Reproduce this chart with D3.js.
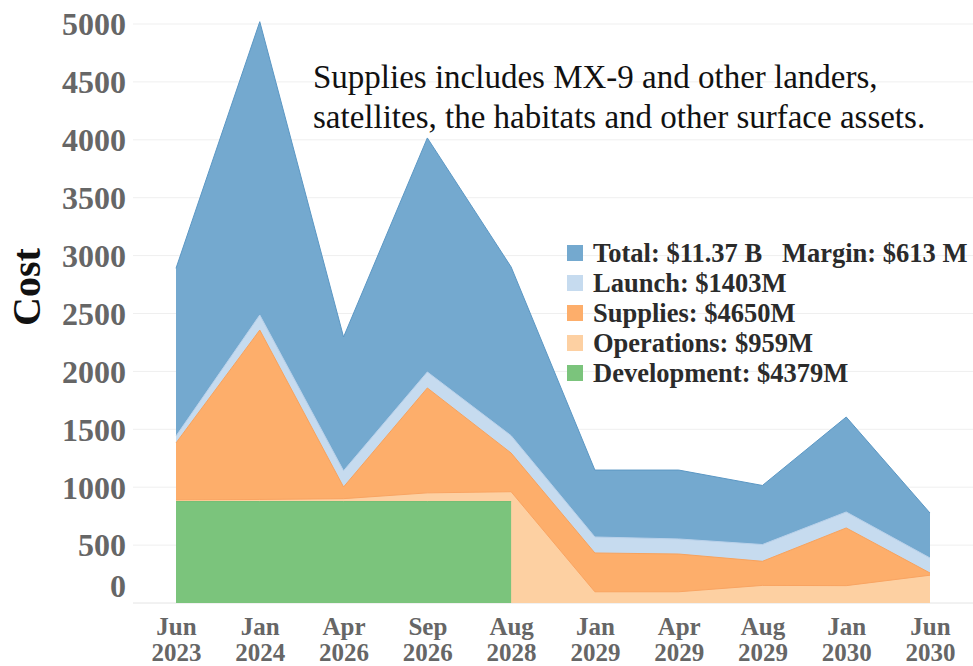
<!DOCTYPE html>
<html>
<head>
<meta charset="utf-8">
<script src="https://cdn.jsdelivr.net/npm/d3@7"></script>
<style>
  html, body { margin: 0; padding: 0; background: #fff; }
  svg { display: block; }
</style>
</head>
<body>
<svg id="chart" width="973" height="666"></svg>
<script>
// Milestone dates along the x axis
const dates = ["Jun 2023", "Jan 2024", "Apr 2026", "Sep 2026", "Aug 2028",
               "Jan 2029", "Apr 2029", "Aug 2029", "Jan 2030", "Jun 2030"];

// Cost components ($M) per milestone, stacked bottom to top
const development = [876, 876, 876, 876, 876, null, null, null, null, null];
const operations  = [15, 18, 25, 75, 85, 97, 97, 152, 150, 240];
const supplies    = [491, 1463, 101, 906, 334, 335, 326, 208, 498, 19];
const launch      = [60, 130, 140, 138, 150, 138, 130, 145, 138, 130];

// Overall total ($M) per milestone
const total = [2890, 5020, 2297, 4016, 2902, 1148, 1148, 1015, 1606, 777];

const yTicks = [0, 500, 1000, 1500, 2000, 2500, 3000, 3500, 4000, 4500, 5000];

const legendItems = [
  { label: "Total: $11.37 B   Margin: $613 M", color: "#74a9cf" },
  { label: "Launch: $1403M", color: "#c6dbef" },
  { label: "Supplies: $4650M", color: "#fdae6b" },
  { label: "Operations: $959M", color: "#fdd0a2" },
  { label: "Development: $4379M", color: "#7bc47c" }
];

const noteLines = ["Supplies includes MX-9 and other landers,",
                   "satellites, the habitats and other surface assets."];

const svg = d3.select("#chart");
const serif = "'Liberation Serif', 'Times New Roman', serif";

const x = d3.scalePoint().domain(dates).range([176, 930]);
const y = d3.scaleLinear().domain([0, 5000]).range([603, 24]);

// Gridlines
svg.append("g")
  .selectAll("line")
  .data(yTicks)
  .join("line")
  .attr("x1", 133).attr("x2", 973)
  .attr("y1", d => y(d)).attr("y2", d => y(d))
  .attr("stroke", d => d === 0 ? "#e4e4e4" : "#efefef")
  .attr("stroke-width", 1);

// Stack the components
const rows = dates.map((d, i) => ({
  date: d,
  development: development[i] == null ? 0 : development[i],
  operations: operations[i],
  supplies: supplies[i],
  launch: launch[i]
}));
const keys = ["development", "operations", "supplies", "launch"];
const stacked = d3.stack().keys(keys)(rows);
const cum = {};
keys.forEach((k, j) => { cum[k] = stacked[j].map(p => p[1]); });
cum.total = total;

const layers = [
  { key: "total", color: "#74a9cf", line: "#5b97c4", defined: () => true },
  { key: "launch", color: "#c6dbef", line: "#b9d1ea", defined: () => true },
  { key: "supplies", color: "#fdae6b", line: "#f8a25c", defined: () => true },
  { key: "operations", color: "#fdd0a2", line: "#f9a462", defined: () => true },
  { key: "development", color: "#7bc47c", line: "#73bd74", defined: (i) => development[i] != null }
];

const plot = svg.append("g");
layers.forEach(L => {
  const pts = dates.map((d, i) => ({ d, i, v: cum[L.key][i] }));
  const area = d3.area()
    .defined(p => L.defined(p.i))
    .x(p => x(p.d))
    .y0(y(0))
    .y1(p => y(p.v));
  plot.append("path")
    .datum(pts)
    .attr("d", area)
    .attr("fill", L.color);
  const line = d3.line()
    .defined(p => L.defined(p.i))
    .x(p => x(p.d))
    .y(p => y(p.v));
  plot.append("path")
    .datum(pts)
    .attr("d", line)
    .attr("fill", "none")
    .attr("stroke", L.line)
    .attr("stroke-width", 1);
});

// Y axis
const yAxis = svg.append("g")
  .attr("transform", "translate(133,0)")
  .call(d3.axisLeft(y).tickValues(yTicks).tickSize(0).tickPadding(7).tickFormat(d3.format("d")));
yAxis.select(".domain").remove();
yAxis.selectAll("text")
  .attr("font-family", serif)
  .attr("font-weight", "bold")
  .attr("font-size", 32)
  .attr("fill", "#666")
  .attr("dy", d => d === 0 ? "-0.2em" : "0.34em");

// X axis: month on one line, year on the next
const xAxis = svg.append("g")
  .attr("transform", "translate(0,603)")
  .call(d3.axisBottom(x).tickSize(0).tickPadding(0));
xAxis.select(".domain").remove();
xAxis.selectAll(".tick").each(function(d) {
  const parts = d.split(" ");
  const tick = d3.select(this);
  tick.select("text").remove();
  parts.forEach((p, k) => {
    tick.append("text")
      .attr("x", 0)
      .attr("y", 32 + k * 26)
      .attr("text-anchor", "middle")
      .attr("font-family", serif)
      .attr("font-weight", "bold")
      .attr("font-size", 25)
      .attr("fill", "#666")
      .text(p);
  });
});

// Y axis title
svg.append("text")
  .attr("transform", "translate(40,287) rotate(-90)")
  .attr("text-anchor", "middle")
  .attr("font-family", serif)
  .attr("font-weight", "bold")
  .attr("font-size", 40)
  .attr("fill", "#111")
  .text("Cost");

// Note
svg.append("g")
  .selectAll("text")
  .data(noteLines)
  .join("text")
  .attr("x", 313)
  .attr("y", (d, i) => 88 + i * 40)
  .attr("font-family", serif)
  .attr("font-size", 33)
  .attr("fill", "#111")
  .text(d => d);

// Legend
const legend = svg.append("g").attr("transform", "translate(567,253)");
const li = legend.selectAll("g")
  .data(legendItems)
  .join("g")
  .attr("transform", (d, i) => `translate(0,${i * 30})`);
li.append("rect")
  .attr("x", 0).attr("y", -8)
  .attr("width", 16).attr("height", 16)
  .attr("fill", d => d.color);
li.append("text")
  .attr("x", 26).attr("y", 0).attr("dy", "0.34em")
  .attr("font-family", serif)
  .attr("font-weight", "bold")
  .attr("font-size", 26.5)
  .attr("fill", "#2b2b2b")
  .style("white-space", "pre")
  .text(d => d.label);
</script>
</body>
</html>
